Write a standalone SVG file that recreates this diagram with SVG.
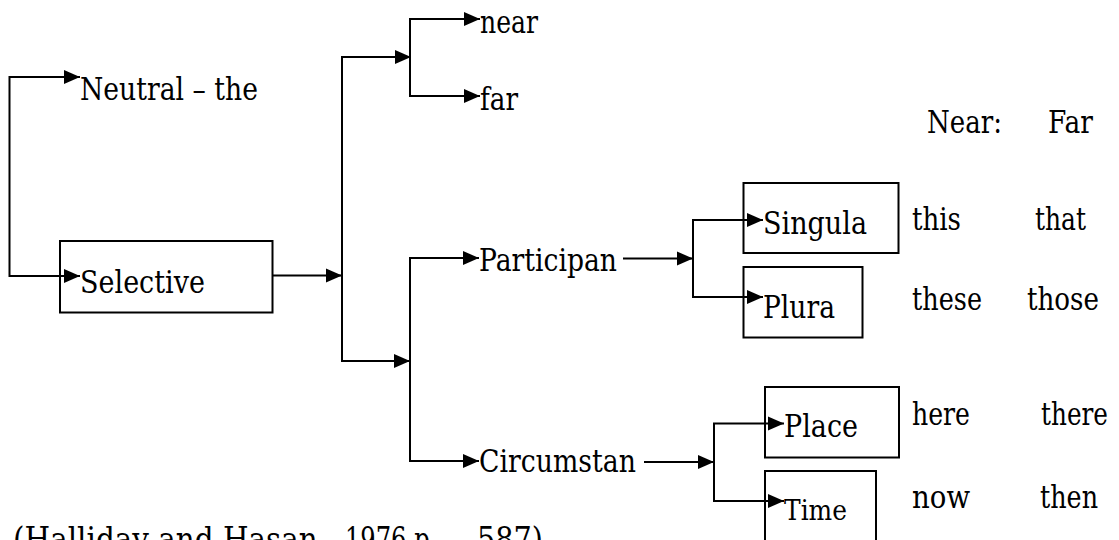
<svg xmlns="http://www.w3.org/2000/svg" width="1119" height="540" viewBox="0 0 1119 540">
  <style>
    text { font-family: "DejaVu Serif", "Liberation Serif", serif; font-size: 31px; fill: #000; }
    .box { fill: none; stroke: #000; stroke-width: 2; }
    .conn { fill: none; stroke: #000; stroke-width: 2; marker-end: url(#arrow); }
    .small { font-size: 27px; }
    .cite { font-size: 33px; }
  </style>
  <defs>
    <marker id="arrow" markerUnits="userSpaceOnUse" markerWidth="16" markerHeight="14" refX="16" refY="7" orient="auto" overflow="visible">
      <path d="M0,0 L16,7 L0,14 z" fill="#000"/>
    </marker>
  </defs>
  <rect width="1119" height="540" fill="#fff"/>

  <g id="connectors">
    <path class="conn" d="M9.5,176 V77 H80"/>
    <path class="conn" d="M9.5,176 V276 H80"/>
    <path class="conn" d="M272,275.5 H342"/>
    <path class="conn" d="M342,275 V57 H411"/>
    <path class="conn" d="M342,275 V361 H410"/>
    <path class="conn" d="M410,57 V19 H480"/>
    <path class="conn" d="M410,57 V96 H480"/>
    <path class="conn" d="M410,361 V258 H479"/>
    <path class="conn" d="M410,361 V461 H479"/>
    <path class="conn" d="M623,258.5 H693"/>
    <path class="conn" d="M693,258 V220 H763"/>
    <path class="conn" d="M693,258 V297 H763"/>
    <path class="conn" d="M644,462 H714"/>
    <path class="conn" d="M714,462 V423.5 H784"/>
    <path class="conn" d="M714,462 V501 H784"/>
  </g>

  <g id="node-neutral"><text x="80" y="100" textLength="178" lengthAdjust="spacingAndGlyphs">Neutral – the</text></g>
  <g id="node-selective">
    <rect class="box" x="60" y="241" width="212.5" height="71.5"/>
    <text x="80" y="293" textLength="125" lengthAdjust="spacingAndGlyphs">Selective</text>
  </g>
  <g id="node-near"><text x="480" y="33" textLength="58" lengthAdjust="spacingAndGlyphs">near</text></g>
  <g id="node-far"><text x="480" y="110" textLength="38" lengthAdjust="spacingAndGlyphs">far</text></g>
  <g id="node-participan"><text x="479" y="271" textLength="138" lengthAdjust="spacingAndGlyphs">Participan</text></g>
  <g id="node-circumstan"><text x="479" y="472" textLength="157" lengthAdjust="spacingAndGlyphs">Circumstan</text></g>
  <g id="node-singula">
    <rect class="box" x="743.5" y="183" width="155" height="70"/>
    <text x="763" y="234" textLength="104" lengthAdjust="spacingAndGlyphs">Singula</text>
  </g>
  <g id="node-plura">
    <rect class="box" x="743.5" y="267" width="119" height="70.5"/>
    <text x="763" y="318" textLength="72" lengthAdjust="spacingAndGlyphs">Plura</text>
  </g>
  <g id="node-place">
    <rect class="box" x="765" y="387" width="134" height="70.5"/>
    <text x="784" y="437" textLength="74" lengthAdjust="spacingAndGlyphs">Place</text>
  </g>
  <g id="node-time">
    <rect class="box" x="765" y="471" width="111" height="90"/>
    <text class="small" x="784" y="520" textLength="63" lengthAdjust="spacingAndGlyphs">Time</text>
  </g>

  <g id="table">
    <text x="927" y="133" textLength="75" lengthAdjust="spacingAndGlyphs">Near:</text>
    <text x="1048" y="133" textLength="45" lengthAdjust="spacingAndGlyphs">Far</text>
    <text x="912" y="230" textLength="49" lengthAdjust="spacingAndGlyphs">this</text>
    <text x="1035" y="230" textLength="51" lengthAdjust="spacingAndGlyphs">that</text>
    <text x="912" y="310" textLength="70" lengthAdjust="spacingAndGlyphs">these</text>
    <text x="1027" y="310" textLength="72" lengthAdjust="spacingAndGlyphs">those</text>
    <text x="912" y="425" textLength="58" lengthAdjust="spacingAndGlyphs">here</text>
    <text x="1041" y="425" textLength="67" lengthAdjust="spacingAndGlyphs">there</text>
    <text x="912" y="508" textLength="58" lengthAdjust="spacingAndGlyphs">now</text>
    <text x="1040" y="508" textLength="58" lengthAdjust="spacingAndGlyphs">then</text>
  </g>

  <g id="citation">
    <text class="cite" x="13" y="551" textLength="314" lengthAdjust="spacingAndGlyphs">(Halliday and Hasan,</text>
    <text class="cite" x="345" y="551" textLength="100" lengthAdjust="spacingAndGlyphs">1976 p.,</text>
    <text class="cite" x="477" y="551" textLength="66" lengthAdjust="spacingAndGlyphs">587)</text>
  </g>
</svg>
